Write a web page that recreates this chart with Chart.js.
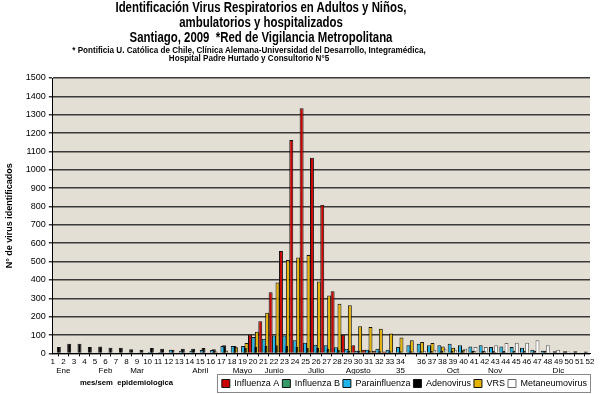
<!DOCTYPE html>
<html><head><meta charset="utf-8">
<script src="https://cdn.jsdelivr.net/npm/chart.js@4/dist/chart.umd.min.js"></script>
<style>
html,body{margin:0;padding:0;background:#fff;}
#wrap{position:relative;width:600px;height:394px;overflow:hidden;}
#c{position:absolute;left:0;top:0;}
.t{position:absolute;left:0;text-align:center;font-family:'Liberation Sans',Arial,sans-serif;font-weight:bold;color:#000;white-space:nowrap;}
</style></head><body>
<div id="wrap">
<canvas id="c" width="600" height="394"></canvas>
<div class="t" style="top:0;width:522px;font-size:14px;line-height:15px;transform:scaleX(0.815);transform-origin:261px 0;">Identificación Virus Respiratorios en Adultos y Niños,<br>ambulatorios y hospitalizados<br>Santiago, 2009&nbsp; *Red de Vigilancia Metropolitana</div>
<div class="t" style="top:45.5px;width:498px;font-size:9px;line-height:8.5px;transform:scaleX(0.9);transform-origin:249px 0;">* Pontificia U. Católica de Chile, Clínica Alemana-Universidad del Desarrollo, Integramédica,<br>Hospital Padre Hurtado y Consultorio N°5</div>
<div class="t" style="top:378px;left:80px;font-size:8px;transform:scaleX(0.96);transform-origin:0 0;">mes/sem&nbsp; epidemiologica</div>
</div>
<script>
// Week tick labels (first row) and month labels (second row)
const weekRow = ['1','2','3','4','5','6','7','8','9','10','11','12','13','14','15','16','17','18','19','20','21','22','23','24','25','26','27','28','29','30','31','32','33','34','','36','37','38','39','40','41','42','43','44','45','46','47','48','49','50','51','52'];
const monthRow = ['','Ene','','','','Feb','','','Mar','','','','','','Abril','','','','Mayo','','','Junio','','','','Julio','','','','Agosto','','','','35','','','','','Oct','','','','Nov','','','','','','Dic','','',''];
const categories = ['1','2','3','4','5','6','7','8','9','10','11','12','13','14','15','16','17','18','19','20','21','22','23','24','25','26','27','28','29','30','31','32','33','34','35','36','37','38','39','40','41','42','43','44','45','46','47','48','49','50','51','52'];

const influenzaA = [0,0,0,0,0,0,0,0,0,0,0,0,0,0,0,0,0,0,0,103,175,333,558,1162,1335,1066,809,338,102,45,20,15,10,5,0,0,0,0,0,0,0,0,0,0,0,0,0,0,0,0,0,0];
const influenzaB = [0,0,0,0,0,0,0,0,0,0,0,0,0,0,0,0,0,0,0,0,0,0,0,0,0,0,0,0,0,0,0,0,0,0,0,0,0,0,0,0,0,0,0,0,0,0,0,0,0,0,0,0];
const parainfluenza = [5,5,5,5,5,5,5,5,5,8,8,20,15,15,18,18,40,40,40,89,80,98,98,71,58,47,44,33,25,15,20,25,20,35,44,53,44,44,53,44,38,44,35,38,35,31,20,15,5,5,5,5];
const adenovirus = [35,53,53,35,38,31,31,22,20,29,25,20,25,25,29,22,44,40,30,35,40,45,40,35,30,30,25,20,15,15,15,12,12,12,12,12,15,15,15,15,15,15,15,15,15,15,15,15,12,12,12,10];
const vrs = [0,0,0,0,0,0,0,0,0,0,0,0,0,0,0,10,16,34,56,118,222,386,509,522,536,392,316,271,262,148,144,134,109,86,71,62,56,38,31,20,15,12,8,6,5,5,0,0,0,0,0,0];
const metaneumovirus = [0,0,0,0,0,0,0,0,0,0,0,0,0,0,0,0,0,0,0,5,10,15,20,15,15,15,10,8,5,5,5,5,5,5,8,15,20,25,20,25,35,35,44,56,58,58,71,44,20,10,5,5];

const FONT = "'Liberation Sans',Arial,sans-serif";

const bgPlugin = {
  id: 'bg',
  beforeDraw(chart) {
    const {ctx, chartArea: a} = chart;
    ctx.save();
    ctx.fillStyle = '#E4DFD5';
    ctx.fillRect(a.left, a.top, a.right - a.left, a.bottom - a.top);
    ctx.restore();
  }
};
const legendBox = {
  id: 'legendBox',
  afterDraw(chart) {
    const lg = chart.legend;
    if (!lg || !lg.legendHitBoxes || !lg.legendHitBoxes.length) return;
    const hb = lg.legendHitBoxes;
    let l = Infinity, r = -Infinity, t = Infinity, b = -Infinity;
    hb.forEach(h => { l = Math.min(l, h.left); r = Math.max(r, h.left + h.width); t = Math.min(t, h.top); b = Math.max(b, h.top + h.height); });
    const ctx = chart.ctx;
    ctx.save();
    ctx.strokeStyle = '#888';
    ctx.lineWidth = 1;
    ctx.strokeRect(Math.round(l - 5) + 0.5, Math.round(t - 5) + 0.5, Math.round(r - l + 8), Math.round(b - t + 9));
    ctx.restore();
  }
};

function ds(label, data, color, border) {
  return {label, data, backgroundColor: color, borderColor: border, borderWidth: 1,
    categoryPercentage: 1.0, barPercentage: 2.3, xAxisID: 'x'};
}

new Chart(document.getElementById('c'), {
  type: 'bar',
  data: {
    labels: categories,
    datasets: [
      ds('Influenza A', influenzaA, '#CC0000', '#111'),
      ds('Influenza B', influenzaB, '#339966', '#111'),
      ds('Parainfluenza', parainfluenza, '#1EB4E8', '#111'),
      ds('Adenovirus', adenovirus, '#000000', '#111'),
      ds('VRS', vrs, '#E6B400', '#111'),
      ds('Metaneumovirus', metaneumovirus, '#FFFFFF', '#666')
    ]
  },
  options: {
    responsive: false,
    animation: false,
    devicePixelRatio: 1,
    layout: {padding: {top: 78, left: 4, right: 10, bottom: -4}},
    plugins: {
      title: {display: false},
      tooltip: {enabled: false},
      legend: {
        position: 'bottom', align: 'end',
        labels: {boxWidth: 8, boxHeight: 8, padding: 3, color: '#000', font: {family: FONT, size: 9}}
      }
    },
    scales: {
      x: {display: false, offset: true, grid: {display: false}},
      x2: {
        type: 'category', position: 'bottom', offset: false,
        labels: weekRow.map((w, i) => [w, monthRow[i]]),
        grid: {display: true, drawOnChartArea: false, tickLength: 3, color: '#000'},
        border: {display: true, color: '#000', width: 1},
        ticks: {autoSkip: false, maxRotation: 0, minRotation: 0, padding: 1, color: '#000', font: {family: FONT, size: 8, lineHeight: 1.1}}
      },
      y: {
        min: 0, max: 1500,
        ticks: {stepSize: 100, color: '#000', padding: 3, font: {family: FONT, size: 9}, callback: v => String(v)},
        grid: {color: '#3a3a3a', lineWidth: 1.5, tickLength: 4},
        border: {display: true, color: '#000', width: 1},
        title: {display: true, text: 'N° de virus identificados', color: '#000', font: {family: FONT, size: 9, weight: 'bold'}, padding: {top: 0, bottom: 8}}
      }
    }
  },
  plugins: [bgPlugin, legendBox]
});
</script>
</body></html>
